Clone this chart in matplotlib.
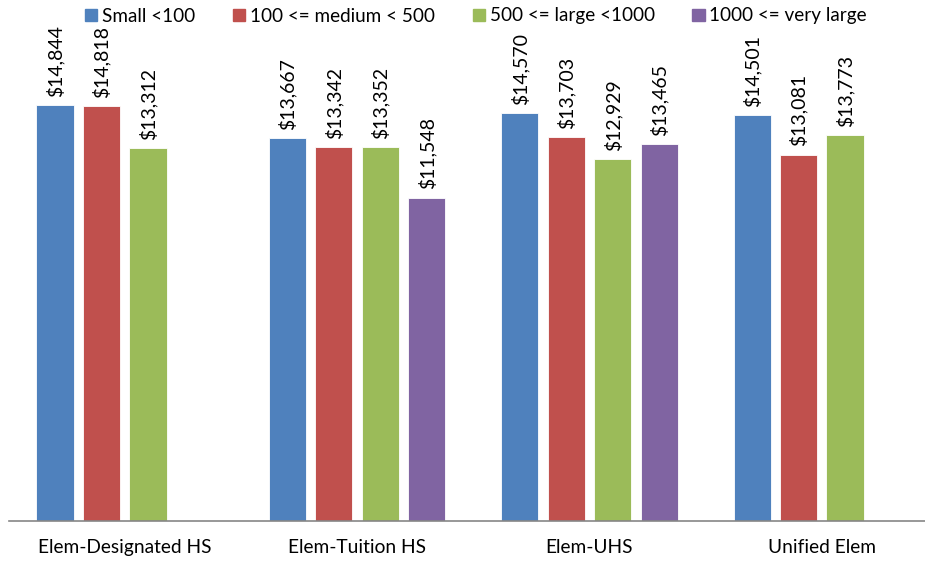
import numpy as np
import matplotlib
matplotlib.use('Agg')
from matplotlib import pyplot as plt

plt.rcParams['font.family'] = ['Lato', 'DejaVu Sans']

categories = ['Elem-Designated HS', 'Elem-Tuition HS', 'Elem-UHS', 'Unified Elem']
series_names = ['Small <100', '100 <= medium < 500', '500 <= large <1000', '1000 <= very large']
small = [14844, 13667, 14570, 14501]
medium = [14818, 13342, 13703, 13081]
large = [13312, 13352, 12929, 13773]
very_large = [None, 11548, 13465, None]
colors = ['#4F81BD', '#C0504D', '#9BBB59', '#8064A2']

fig = plt.figure(figsize=(9.25, 5.62), dpi=100)
ax = fig.add_axes([8.6 / 925, 41 / 562, 929.4 / 925, 504 / 562])

x = np.arange(len(categories))
slot = 0.2
width = 0.16
handles = []
for k, (vals, col) in enumerate(zip([small, medium, large, very_large], colors)):
    xs = x + (k - 1.5) * slot
    for xi, v in zip(xs, vals):
        if v is None:
            continue
        ax.bar(xi, v, width, color=col, edgecolor='white', linewidth=0.6)
        ax.annotate('${:,}'.format(v), (xi, v), xytext=(0, 6), textcoords='offset points',
                    rotation=90, ha='center', va='bottom', fontsize=14, color='black')
    handles.append(plt.Rectangle((0, 0), 1, 1, color=col))

ax.set_xlim(-0.5, 3.5)
ax.set_ylim(0, 18000)
ax.set_yticks([])
ax.set_xticks(x)
ax.set_xticklabels(categories, fontsize=13.8)
ax.tick_params(axis='x', length=0, pad=13)
for s in ['top', 'right', 'left']:
    ax.spines[s].set_visible(False)
ax.spines['bottom'].set_color('#868686')
ax.spines['bottom'].set_linewidth(1.2)

fig.legend(handles, series_names, loc='center', bbox_to_anchor=(476 / 925, 1 - 16 / 562),
           ncol=4, frameon=False, fontsize=13.6, handlelength=0.65, handleheight=0.65,
           handletextpad=0.25, columnspacing=2.0)

plt.savefig('out.png', dpi=100)
